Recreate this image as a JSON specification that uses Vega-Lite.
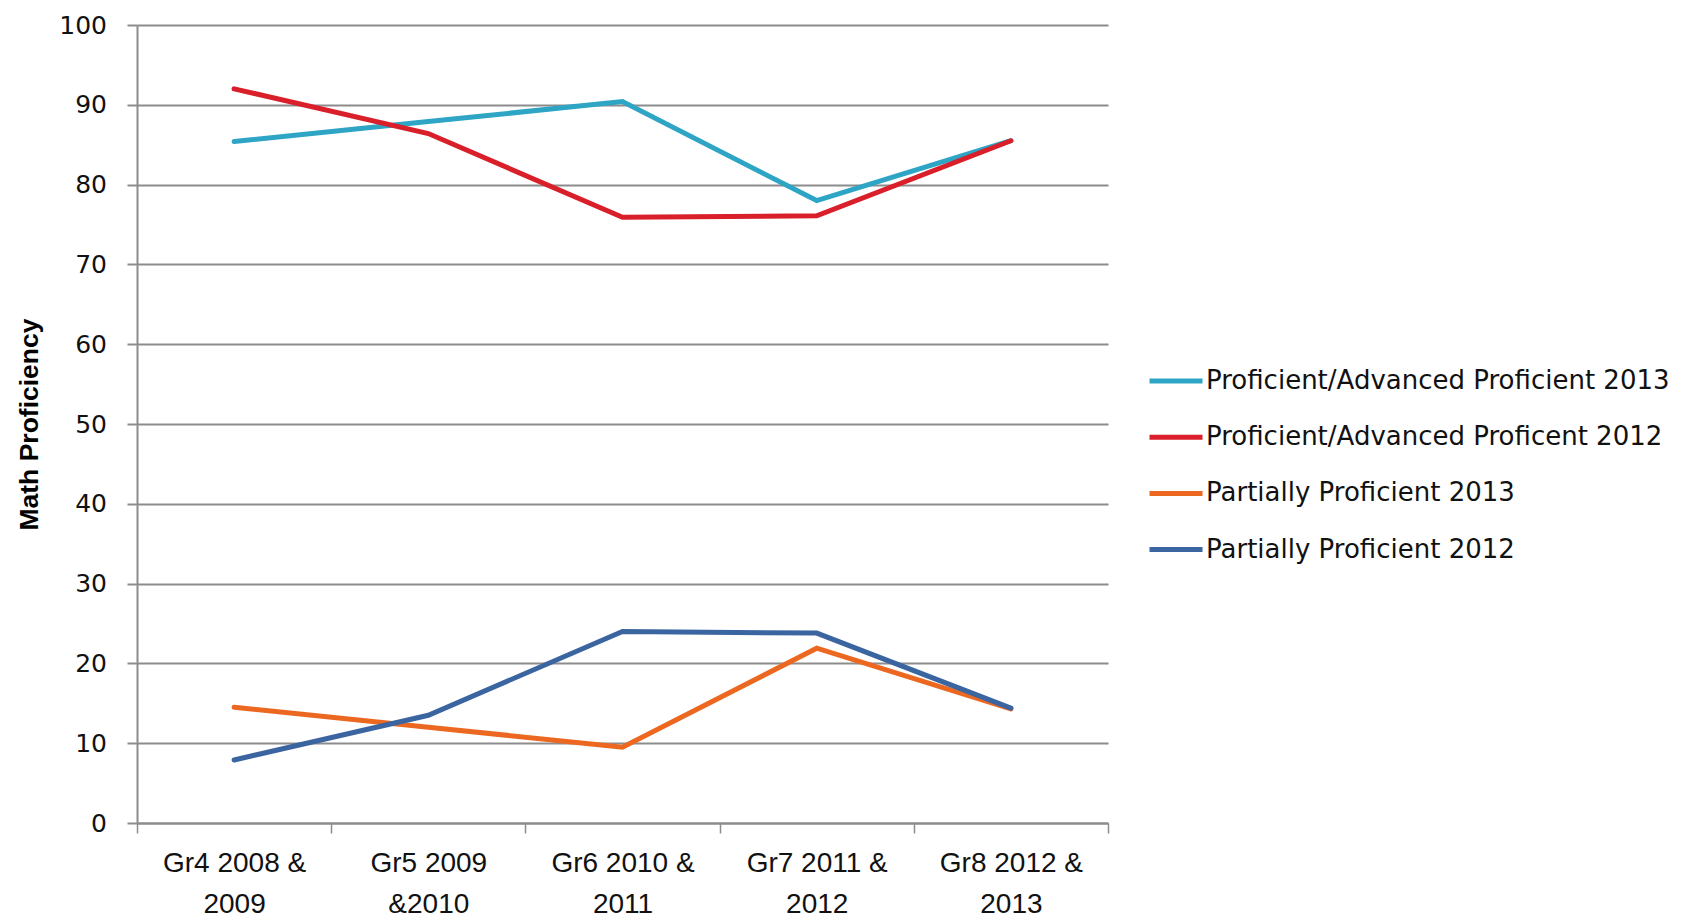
{
  "$schema": "https://vega.github.io/schema/vega-lite/v6.json",
  "width": 971,
  "height": 798,
  "autosize": "none",
  "padding": {"left": 137, "top": 25, "right": 582, "bottom": 94},
  "background": "white",
  "data": {
    "values": [
      {"grade": "Gr4 2008 & 2009", "series": "Proficient/Advanced Proficient 2013", "value": 85.4},
      {"grade": "Gr5 2009 &2010", "series": "Proficient/Advanced Proficient 2013", "value": 87.9},
      {"grade": "Gr6  2010 & 2011", "series": "Proficient/Advanced Proficient 2013", "value": 90.4},
      {"grade": "Gr7 2011 & 2012", "series": "Proficient/Advanced Proficient 2013", "value": 78.0},
      {"grade": "Gr8 2012 & 2013", "series": "Proficient/Advanced Proficient 2013", "value": 85.5},
      {"grade": "Gr4 2008 & 2009", "series": "Proficient/Advanced Proficent 2012", "value": 92.0},
      {"grade": "Gr5 2009 &2010", "series": "Proficient/Advanced Proficent 2012", "value": 86.4},
      {"grade": "Gr6  2010 & 2011", "series": "Proficient/Advanced Proficent 2012", "value": 75.9},
      {"grade": "Gr7 2011 & 2012", "series": "Proficient/Advanced Proficent 2012", "value": 76.1},
      {"grade": "Gr8 2012 & 2013", "series": "Proficient/Advanced Proficent 2012", "value": 85.5},
      {"grade": "Gr4 2008 & 2009", "series": "Partially Proficient 2013", "value": 14.5},
      {"grade": "Gr5 2009 &2010", "series": "Partially Proficient 2013", "value": 12.0},
      {"grade": "Gr6  2010 & 2011", "series": "Partially Proficient 2013", "value": 9.5},
      {"grade": "Gr7 2011 & 2012", "series": "Partially Proficient 2013", "value": 21.9},
      {"grade": "Gr8 2012 & 2013", "series": "Partially Proficient 2013", "value": 14.3},
      {"grade": "Gr4 2008 & 2009", "series": "Partially Proficient 2012", "value": 7.9},
      {"grade": "Gr5 2009 &2010", "series": "Partially Proficient 2012", "value": 13.5},
      {"grade": "Gr6  2010 & 2011", "series": "Partially Proficient 2012", "value": 24.0},
      {"grade": "Gr7 2011 & 2012", "series": "Partially Proficient 2012", "value": 23.8},
      {"grade": "Gr8 2012 & 2013", "series": "Partially Proficient 2012", "value": 14.4}
    ]
  },
  "mark": {"type": "line", "strokeWidth": 5, "strokeCap": "round", "strokeJoin": "miter"},
  "encoding": {
    "x": {
      "field": "grade",
      "type": "nominal",
      "sort": null,
      "bandPosition": 0.5,
      "scale": {"type": "band", "paddingInner": 0, "paddingOuter": 0},
      "axis": {
        "title": null,
        "labelAngle": 0,
        "tickBand": "extent",
        "tickSize": 10,
        "tickWidth": 1.5,
        "tickColor": "#8c8c8c",
        "domainColor": "#8c8c8c",
        "domainWidth": 2,
        "labelFont": "Liberation Sans",
        "labelFontSize": 28,
        "labelColor": "#111111",
        "labelPadding": 16,
        "labelLineHeight": 41,
        "labelBaseline": "top",
        "labelExpr": "[slice(datum.label, 0, lastindexof(datum.label, ' ')), slice(datum.label, lastindexof(datum.label, ' ') + 1)]"
      }
    },
    "y": {
      "field": "value",
      "type": "quantitative",
      "scale": {"domain": [0, 100], "nice": false, "zero": true},
      "axis": {
        "title": "Math Proficiency",
        "titleFont": "Liberation Sans",
        "titleFontSize": 26.5,
        "titleFontWeight": "bold",
        "titleColor": "#000000",
        "titlePadding": 15,
        "values": [0, 10, 20, 30, 40, 50, 60, 70, 80, 90, 100],
        "grid": true,
        "gridColor": "#8c8c8c",
        "gridWidth": 2,
        "tickSize": 10,
        "tickWidth": 2,
        "tickColor": "#8c8c8c",
        "domainColor": "#8c8c8c",
        "domainWidth": 2,
        "labelFont": "DejaVu Sans",
        "labelFontSize": 25,
        "labelColor": "#111111",
        "labelPadding": 20.5
      }
    },
    "color": {
      "field": "series",
      "type": "nominal",
      "scale": {
        "domain": ["Proficient/Advanced Proficient 2013", "Proficient/Advanced Proficent 2012", "Partially Proficient 2013", "Partially Proficient 2012"],
        "range": ["#2ea5c4", "#d91f2a", "#ec6820", "#3a65a0"]
      },
      "legend": {
        "title": null,
        "orient": "none",
        "legendX": 1010,
        "legendY": 327,
        "symbolType": "stroke",
        "symbolSize": 2809,
        "symbolStrokeWidth": 5,
        "labelFont": "DejaVu Sans",
        "labelFontSize": 26,
        "labelColor": "#111111",
        "labelOffset": 1,
        "labelLimit": 600,
        "rowPadding": 14.2
      }
    }
  },
  "config": {
    "view": {"stroke": null}
  }
}
